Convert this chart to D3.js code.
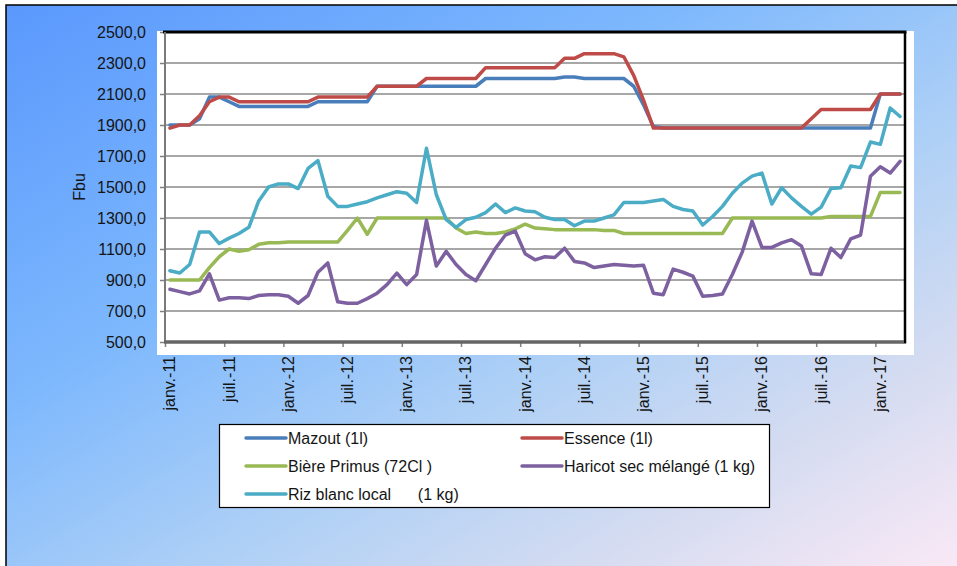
<!DOCTYPE html>
<html>
<head>
<meta charset="utf-8">
<script src="https://cdn.jsdelivr.net/npm/d3@7"></script>
<style>
  body { margin: 0; background: #fff; }
  svg { display: block; font-family: "Liberation Sans", Arial, sans-serif; }
</style>
</head>
<body>
<svg id="chart" width="957" height="566"></svg>
<script>
// x-axis tick labels, one every 6 months
const tickLabels = ['janv.-11', 'juil.-11', 'janv.-12', 'juil.-12', 'janv.-13', 'juil.-13',
  'janv.-14', 'juil.-14', 'janv.-15', 'juil.-15', 'janv.-16', 'juil.-16', 'janv.-17']
const yTicks = [500, 700, 900, 1100, 1300, 1500, 1700, 1900, 2100, 2300, 2500]

// monthly prices, janv.-11 .. mars-17 (one row per year)
const mazout = [
  1900, 1900, 1900, 1940, 2080, 2080, 2050, 2020, 2020, 2020, 2020, 2020,
  2020, 2020, 2020, 2050, 2050, 2050, 2050, 2050, 2050, 2150, 2150, 2150,
  2150, 2150, 2150, 2150, 2150, 2150, 2150, 2150, 2200, 2200, 2200, 2200,
  2200, 2200, 2200, 2200, 2210, 2210, 2200, 2200, 2200, 2200, 2200, 2150,
  2030, 1890, 1880, 1880, 1880, 1880, 1880, 1880, 1880, 1880, 1880, 1880,
  1880, 1880, 1880, 1880, 1880, 1880, 1880, 1880, 1880, 1880, 1880, 1880,
  2100, 2100, 2100]
const essence = [
  1880, 1900, 1900, 1960, 2050, 2080, 2080, 2050, 2050, 2050, 2050, 2050,
  2050, 2050, 2050, 2080, 2080, 2080, 2080, 2080, 2080, 2150, 2150, 2150,
  2150, 2150, 2200, 2200, 2200, 2200, 2200, 2200, 2270, 2270, 2270, 2270,
  2270, 2270, 2270, 2270, 2330, 2330, 2360, 2360, 2360, 2360, 2340, 2220,
  2060, 1880, 1880, 1880, 1880, 1880, 1880, 1880, 1880, 1880, 1880, 1880,
  1880, 1880, 1880, 1880, 1880, 1940, 2000, 2000, 2000, 2000, 2000, 2000,
  2100, 2100, 2100]
const biere = [
  900, 900, 900, 900, 980, 1050, 1100, 1085, 1095, 1130, 1140, 1140,
  1145, 1145, 1145, 1145, 1145, 1145, 1220, 1300, 1195, 1300, 1300, 1300,
  1300, 1300, 1300, 1300, 1300, 1235, 1200, 1210, 1200, 1200, 1210, 1230,
  1260, 1235, 1230, 1225, 1225, 1225, 1225, 1225, 1220, 1220, 1200, 1200,
  1200, 1200, 1200, 1200, 1200, 1200, 1200, 1200, 1200, 1300, 1300, 1300,
  1300, 1300, 1300, 1300, 1300, 1300, 1300, 1310, 1310, 1310, 1310, 1310,
  1465, 1465, 1465]
const haricot = [
  840, 825, 810, 830, 940, 770, 785, 785, 780, 800, 805, 805,
  795, 750, 800, 950, 1010, 760, 750, 750, 780, 815, 870, 945,
  870, 935, 1285, 990, 1085, 1000, 935, 895, 1000, 1105, 1190, 1215,
  1070, 1030, 1050, 1045, 1105, 1020, 1010, 980, 990, 1000, 995, 990,
  995, 815, 805, 970, 950, 925, 795, 800, 810, 935, 1080, 1280,
  1110, 1110, 1140, 1160, 1120, 940, 935, 1105, 1045, 1165, 1190, 1570,
  1630, 1590, 1665]
const riz = [
  960, 945, 1000, 1210, 1210, 1135, 1170, 1200, 1240, 1410, 1500, 1520,
  1520, 1490, 1620, 1670, 1440, 1375, 1375, 1390, 1405, 1430, 1450, 1470,
  1460, 1400, 1750, 1450, 1290, 1240, 1290, 1305, 1335, 1390, 1335, 1365,
  1345, 1340, 1305, 1290, 1290, 1250, 1280, 1280, 1300, 1320, 1400, 1400,
  1400, 1410, 1420, 1375, 1355, 1345, 1255, 1310, 1375, 1460, 1525, 1570,
  1590, 1390, 1495, 1430, 1375, 1325, 1370, 1490, 1495, 1635, 1625, 1790,
  1775, 2010, 1955]

const series = [
  { name: 'Mazout (1l)', color: '#4a7ebb', values: mazout },
  { name: 'Essence (1l)', color: '#be4b48', values: essence },
  { name: 'Bière Primus (72Cl )', color: '#98b954', values: biere },
  { name: 'Haricot sec mélangé (1 kg)', color: '#7d60a0', values: haricot },
  { name: 'Riz blanc local      (1 kg)', color: '#4bacc6', values: riz }
]

const conf = {
  width: 957,
  height: 566,
  plot: { left: 165, top: 32, right: 905, bottom: 342 },
  fontSize: 16
}

const svg = d3.select('#chart')
const { plot } = conf

// background gradient frame
const grad = svg.append('defs').append('linearGradient')
  .attr('id', 'bg')
  .attr('x1', 0).attr('y1', 0).attr('x2', 1).attr('y2', 1)
const stops = [[0, '#5a98fd'], [0.35, '#7db8fd'], [0.6, '#aed0f6'], [0.8, '#d5dcf1'], [1, '#fbe9f6']]
grad.selectAll('stop').data(stops).enter().append('stop')
  .attr('offset', d => d[0])
  .attr('stop-color', d => d[1])

svg.append('rect')
  .attr('x', 6).attr('y', 5)
  .attr('width', conf.width).attr('height', conf.height)
  .attr('fill', 'url(#bg)')
  .attr('stroke', '#000')
  .attr('stroke-width', 1.5)

// white chart area
svg.append('rect')
  .attr('x', 157).attr('y', 31)
  .attr('width', 757).attr('height', 324)
  .attr('fill', '#fff')

const x = d3.scaleLinear().domain([0, series[0].values.length]).range([plot.left, plot.right])
const y = d3.scaleLinear().domain([500, 2500]).range([plot.bottom, plot.top])

// gridlines
svg.append('g')
  .selectAll('line')
  .data(yTicks.filter(d => d > 500 && d < 2500))
  .enter()
  .append('line')
  .attr('x1', plot.left).attr('x2', plot.right)
  .attr('y1', d => y(d)).attr('y2', d => y(d))
  .attr('stroke', '#8a8a8a')
  .attr('stroke-width', 1.5)

// y axis
const yAxis = d3.axisLeft(y)
  .tickValues(yTicks)
  .tickSize(5)
  .tickPadding(14)
  .tickFormat(d => d3.format('.1f')(d).replace('.', ','))

const gy = svg.append('g')
  .attr('transform', `translate(${plot.left}, 0)`)
  .call(yAxis)
gy.select('.domain').remove()
gy.selectAll('line').attr('stroke', '#808080').attr('stroke-width', 1.5)
gy.selectAll('text')
  .attr('font-size', conf.fontSize)
  .attr('font-family', '"Liberation Sans", Arial, sans-serif')
  .attr('fill', '#151515')

// x axis
const xAxis = d3.axisBottom(x)
  .tickValues(d3.range(0, tickLabels.length * 6, 6))
  .tickFormat((d, i) => tickLabels[i])
  .tickSize(5)

const gx = svg.append('g')
  .attr('transform', `translate(0, ${plot.bottom})`)
  .call(xAxis)
gx.select('.domain').remove()
gx.selectAll('line').attr('stroke', '#808080').attr('stroke-width', 1.5)
gx.selectAll('text')
  .attr('transform', 'rotate(-90)')
  .attr('text-anchor', 'end')
  .attr('x', -14)
  .attr('y', 0)
  .attr('dy', '0.62em')
  .attr('font-size', conf.fontSize)
  .attr('font-family', '"Liberation Sans", Arial, sans-serif')
  .attr('fill', '#151515')

// plot border + axis lines
svg.append('line')
  .attr('x1', plot.left - 2).attr('x2', plot.right + 1.5)
  .attr('y1', plot.top).attr('y2', plot.top)
  .attr('stroke', '#000').attr('stroke-width', 3)
svg.append('line')
  .attr('x1', plot.right).attr('x2', plot.right)
  .attr('y1', plot.top).attr('y2', plot.bottom + 1.5)
  .attr('stroke', '#000').attr('stroke-width', 2.5)
svg.append('line')
  .attr('x1', plot.left).attr('x2', plot.left)
  .attr('y1', plot.top).attr('y2', plot.bottom)
  .attr('stroke', '#7a7a7a').attr('stroke-width', 2)
svg.append('line')
  .attr('x1', plot.left - 1).attr('x2', plot.right - 1)
  .attr('y1', plot.bottom).attr('y2', plot.bottom)
  .attr('stroke', '#666').attr('stroke-width', 3.5)

// y title
svg.append('text')
  .attr('transform', 'translate(85, 187) rotate(-90)')
  .attr('text-anchor', 'middle')
  .attr('font-size', conf.fontSize)
  .attr('fill', '#151515')
  .text('Fbu')

// lines
const line = d3.line()
  .x((d, i) => x(i + 0.5))
  .y(d => y(d))

svg.append('g')
  .selectAll('path')
  .data(series)
  .enter()
  .append('path')
  .attr('d', d => line(d.values))
  .attr('fill', 'none')
  .attr('stroke', d => d.color)
  .attr('stroke-width', 3.5)
  .attr('stroke-linejoin', 'round')
  .attr('stroke-linecap', 'round')

// legend
const legend = svg.append('g')
legend.append('rect')
  .attr('x', 219.5).attr('y', 424.5)
  .attr('width', 550).attr('height', 83)
  .attr('fill', '#fff')
  .attr('stroke', '#000')
  .attr('stroke-width', 1.2)

const cols = [246, 522]
const rows = [438, 466, 494]
const items = legend.selectAll('.item')
  .data(series)
  .enter()
  .append('g')
  .attr('class', 'item')
  .attr('transform', (d, i) => `translate(${cols[i % 2]}, ${rows[Math.floor(i / 2)]})`)

items.append('line')
  .attr('x1', 0).attr('x2', 40)
  .attr('stroke', d => d.color)
  .attr('stroke-width', 3.5)
  .attr('stroke-linecap', 'round')

items.append('text')
  .attr('x', 42)
  .attr('dy', '0.35em')
  .attr('font-size', conf.fontSize)
  .attr('fill', '#151515')
  .style('white-space', 'pre')
  .text(d => d.name)
</script>
</body>
</html>
